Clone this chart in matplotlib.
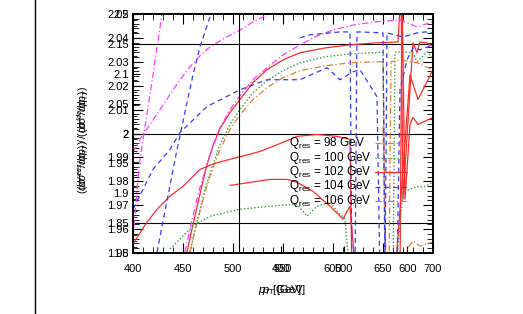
import matplotlib
matplotlib.use('Agg')
import matplotlib.pyplot as plt
from matplotlib.lines import Line2D
from matplotlib.ticker import MultipleLocator, FixedLocator

plt.rcParams['font.family'] = ['Liberation Sans', 'DejaVu Sans']
plt.rcParams['mathtext.fontset'] = 'custom'
plt.rcParams['mathtext.rm'] = 'Liberation Sans'
plt.rcParams['mathtext.it'] = 'Liberation Sans:italic'

# values below the frame (1.94) are clipped away like in the original
LOW = 1.94

# fan of smooth curves
red_fan_x = [454, 459, 464, 469, 474, 480, 487, 497, 507, 520, 534, 550, 567, 592, 617, 642, 665,
             668, 670, 680, 684, 687, 694, 700]
red_fan_y = [1.9504, 1.960, 1.9692, 1.9783, 1.9871, 1.995, 2.0021, 2.0088, 2.0142, 2.0213, 2.0267,
             2.0308, 2.0338, 2.0358, 2.0371, 2.0379, 2.0383, 2.06, 1.9725, 2.0379, 2.0338, 2.0383,
             2.0379, 2.0363]
green_fan_x = [457, 462, 467, 473, 480, 487, 497, 507, 520, 534, 550, 567, 592, 617, 642, 650, 652,
               660, 662, 667, 680, 684, 694, 700]
green_fan_y = [1.9504, 1.960, 1.9683, 1.9779, 1.9871, 1.9954, 2.0038, 2.010, 2.0171, 2.0221, 2.0263,
               2.0296, 2.0321, 2.0333, 2.0338, 2.034, LOW, LOW, 2.034, 2.0342, 2.0338, 2.030, 2.0342,
               2.0317]
orange_fan_x = [457, 462, 467, 473, 480, 487, 497, 507, 520, 534, 550, 567, 592, 617, 642, 650, 653,
                656, 658, 667, 684, 700]
orange_fan_y = [1.9504, 1.9592, 1.9675, 1.9767, 1.9858, 1.9933, 2.0017, 2.0079, 2.0142, 2.0192,
                2.0233, 2.0263, 2.0283, 2.0296, 2.030, 2.030, LOW, LOW, 2.030, 2.0308, 2.0296, 2.0267]
magenta_fan_x = [452, 457, 462, 467, 474, 480, 487, 497, 510, 522, 534, 550, 567, 584, 600, 620,
                 642, 667, 684, 700]
magenta_fan_y = [1.9504, 1.960, 1.9692, 1.9775, 1.9871, 1.9946, 2.0025, 2.010, 2.0175, 2.0233,
                 2.0275, 2.0329, 2.0371, 2.0408, 2.0433, 2.0454, 2.0467, 2.0475, 2.0446, 2.0467]

# other curves
red_low_x = [400, 412, 424, 437, 450, 467, 482, 497, 512, 527, 540, 550, 564, 584, 604, 617, 619,
             667, 669, 672, 677, 680, 685, 700]
red_low_y = [1.9538, 1.9617, 1.9683, 1.9738, 1.9779, 1.985, 1.9875, 1.9892, 1.9908, 1.9925, 1.9946,
             1.9963, 1.9988, 1.9996, 1.9988, 1.9975, LOW, LOW, 2.06, 1.9725, 2.0038, 2.0067, 2.0038,
             2.0067]
red_mid_x = [497, 537, 554, 564, 580, 597, 610, 617, 623, 662, 677, 685, 700]
red_mid_y = [1.9783, 1.9808, 1.9808, 1.9796, 1.9758, 1.9696, 1.9642, 1.9696, LOW, LOW, 2.0246,
             2.0142, 2.0267]
green_low_x = [437, 460, 477, 507, 537, 564, 574, 584, 597, 604, 612, 617, 662, 670, 684, 690, 700]
green_low_y = [1.9517, 1.9613, 1.9654, 1.9683, 1.9696, 1.9704, 1.9654, 1.9696, 1.9713, 1.9675,
               1.9642, LOW, LOW, 1.9754, 1.9779, 1.9775, 1.9796]
orange_low_x = [650, 653, 672, 674, 680, 687, 700]
orange_low_y = [2.003, LOW, LOW, 1.9517, 1.955, 1.9529, 1.9546]
magenta_up_x = [400, 408, 417, 427, 437, 447, 457, 467, 477, 492, 507, 520, 534, 542]
magenta_up_y = [1.9921, 1.9983, 2.0038, 2.010, 2.0163, 2.0225, 2.0279, 2.0325, 2.0363, 2.040,
                2.0433, 2.0467, 2.0496, 2.0538]
magenta_steep_x = [400, 404, 407, 417, 429, 432]
magenta_steep_y = [1.9558, 1.9767, 1.9892, 2.0163, 2.050, 2.0579]
blue_a_x = [400, 420, 437, 447, 474, 507, 534, 567, 594, 607, 620, 627, 644, 647, 664, 667, 674,
            680, 687, 700]
blue_a_y = [1.9683, 1.985, 1.9933, 2.0004, 2.0113, 2.0183, 2.0225, 2.0225, 2.0275, 2.0225, 2.0258,
            2.0267, 2.0154, LOW, LOW, 2.0183, 2.0308, 2.0358, 2.035, 2.0371]
blue_steep_x = [424, 444, 460, 467, 477, 483]
blue_steep_y = [1.9504, 1.9933, 2.0246, 2.0363, 2.0488, 2.055]
blue_top_x = [567, 577, 607, 617, 619, 622, 624, 627, 650, 652, 654, 670, 684, 692, 700]
blue_top_y = [2.040, 2.0413, 2.0425, 2.0425, LOW, LOW, 2.0425, 2.0425, 2.0421, LOW, 2.0421, 2.0404,
              2.0421, 2.0425, 2.0421]

legend_labels = [r'$\mathrm{Q}_{\mathrm{res}}$ = 98 GeV', r'$\mathrm{Q}_{\mathrm{res}}$ = 100 GeV',
                 r'$\mathrm{Q}_{\mathrm{res}}$ = 102 GeV', r'$\mathrm{Q}_{\mathrm{res}}$ = 104 GeV',
                 r'$\mathrm{Q}_{\mathrm{res}}$ = 106 GeV']

# axis ranges and ticks of the two overlaid frames
x_range = (400, 700)
x_ticks = [400, 450, 500, 550, 600, 650, 700]
y_range = (1.95, 2.05)
y_ticks = [1.95, 1.96, 1.97, 1.98, 1.99, 2.0, 2.01, 2.02, 2.03, 2.04, 2.05]
x2_range = (165, 641)
x2_ticks = [400, 500, 600]
y2_range = (1.8, 2.2)
y2_ticks = [1.8, 1.85, 1.9, 1.95, 2.0, 2.05, 2.1, 2.15, 2.2]
hlines2 = [1.85, 2.0, 2.15]
vline_x = 506

RED = '#ff2a2a'
GREEN = '#3c9a3c'
ORANGE = '#e0803a'
BLUE = '#3a3aff'
MAGENTA = '#ff3cff'
DASHDOT = (0, (5, 2, 1, 2))
DOT = (0, (1, 1.5))
DASH = (0, (4, 3))

fig = plt.figure(figsize=(5.23, 3.14), dpi=100)
rect = [133 / 523, 61 / 314, 300 / 523, 239 / 314]
ax2 = fig.add_axes(rect, frameon=False)
ax = fig.add_axes(rect)
ax.patch.set_alpha(0)

ax.plot(red_fan_x, red_fan_y, color=RED, lw=0.9)
ax.plot(green_fan_x, green_fan_y, color=GREEN, lw=1.0, ls=DOT)
ax.plot(orange_fan_x, orange_fan_y, color=ORANGE, lw=0.9, ls=DASHDOT)
ax.plot(magenta_fan_x, magenta_fan_y, color=MAGENTA, lw=0.9, ls=DASHDOT)
ax.plot(red_low_x, red_low_y, color=RED, lw=0.9)
ax.plot(red_mid_x, red_mid_y, color=RED, lw=0.9)
ax.plot(green_low_x, green_low_y, color=GREEN, lw=1.0, ls=DOT)
ax.plot(orange_low_x, orange_low_y, color=ORANGE, lw=0.9, ls=DASHDOT)
ax.plot(magenta_up_x, magenta_up_y, color=MAGENTA, lw=0.9, ls=DASHDOT)
ax.plot(magenta_steep_x, magenta_steep_y, color=MAGENTA, lw=0.9, ls=DASHDOT)
ax.plot(blue_a_x, blue_a_y, color=BLUE, lw=0.9, ls=DASH)
ax.plot(blue_steep_x, blue_steep_y, color=BLUE, lw=0.9, ls=DASH)
ax.plot(blue_top_x, blue_top_y, color=BLUE, lw=0.9, ls=DASH)

ax.axvline(vline_x, color='black', lw=0.8)
for h in hlines2:
    ax2.axhline(h, color='black', lw=0.8)

ax.set_xlim(*x_range)
ax.set_ylim(*y_range)
ax.xaxis.set_major_locator(FixedLocator(x_ticks))
ax.yaxis.set_major_locator(FixedLocator(y_ticks))
ax.xaxis.set_minor_locator(MultipleLocator(10))
ax.yaxis.set_minor_locator(MultipleLocator(0.002))
ax.set_yticklabels(['%g' % v for v in y_ticks])
ax.tick_params(which='both', direction='in', top=True, right=True, labelsize=8)
ax.tick_params(which='major', length=7, width=0.8)
ax.tick_params(which='minor', length=4, width=0.6)
ax.tick_params(axis='x', pad=8)
ax.tick_params(axis='y', pad=3)
for s in ax.spines.values():
    s.set_linewidth(1.4)

ax2.set_xlim(*x2_range)
ax2.set_ylim(*y2_range)
ax2.xaxis.set_major_locator(FixedLocator(x2_ticks))
ax2.yaxis.set_major_locator(FixedLocator(y2_ticks))
ax2.yaxis.set_minor_locator(MultipleLocator(0.01))
ax2.set_yticklabels(['%g' % v for v in y2_ticks])
ax2.tick_params(which='both', direction='in', labelsize=8)
ax2.tick_params(which='major', length=5, width=0.8)
ax2.tick_params(which='minor', length=3, width=0.6)
ax2.tick_params(axis='x', pad=8)
ax2.tick_params(axis='y', pad=3)

# legend: text left, line sample on the right (ROOT style)
legend_styles = [(ORANGE, DASHDOT), (GREEN, DOT), (RED, '-'), (BLUE, DASH), (MAGENTA, DASHDOT)]
for i, (lab, (c, ls)) in enumerate(zip(legend_labels, legend_styles)):
    yrow = 1 - (143 + 14.5 * i) / 314
    fig.text(289 / 523, yrow, lab, ha='left', va='center', fontsize=8.5)
    fig.add_artist(Line2D([375 / 523, 407 / 523], [yrow, yrow], color=c, lw=0.9, ls=ls))

# axis titles drawn twice with a small shift along the text, as in the original
ylab = r'$(d\sigma^{res}/dp_T)\ /\ (d\sigma^{fo}/dp_T)$'
for dy in (0, 4):
    fig.text(83 / 523, 1 - (142 - dy) / 314, ylab, rotation=90, ha='center', va='center', fontsize=7.5)
for dx in (0, 4):
    fig.text((258 + dx) / 523, 1 - 290 / 314, r'$p_T$ [GeV]', ha='left', va='center', fontsize=8)

fig.add_artist(Line2D([35 / 523, 35 / 523], [0, 1], color='black', lw=1.0))

fig.savefig('out.png', dpi=100)
